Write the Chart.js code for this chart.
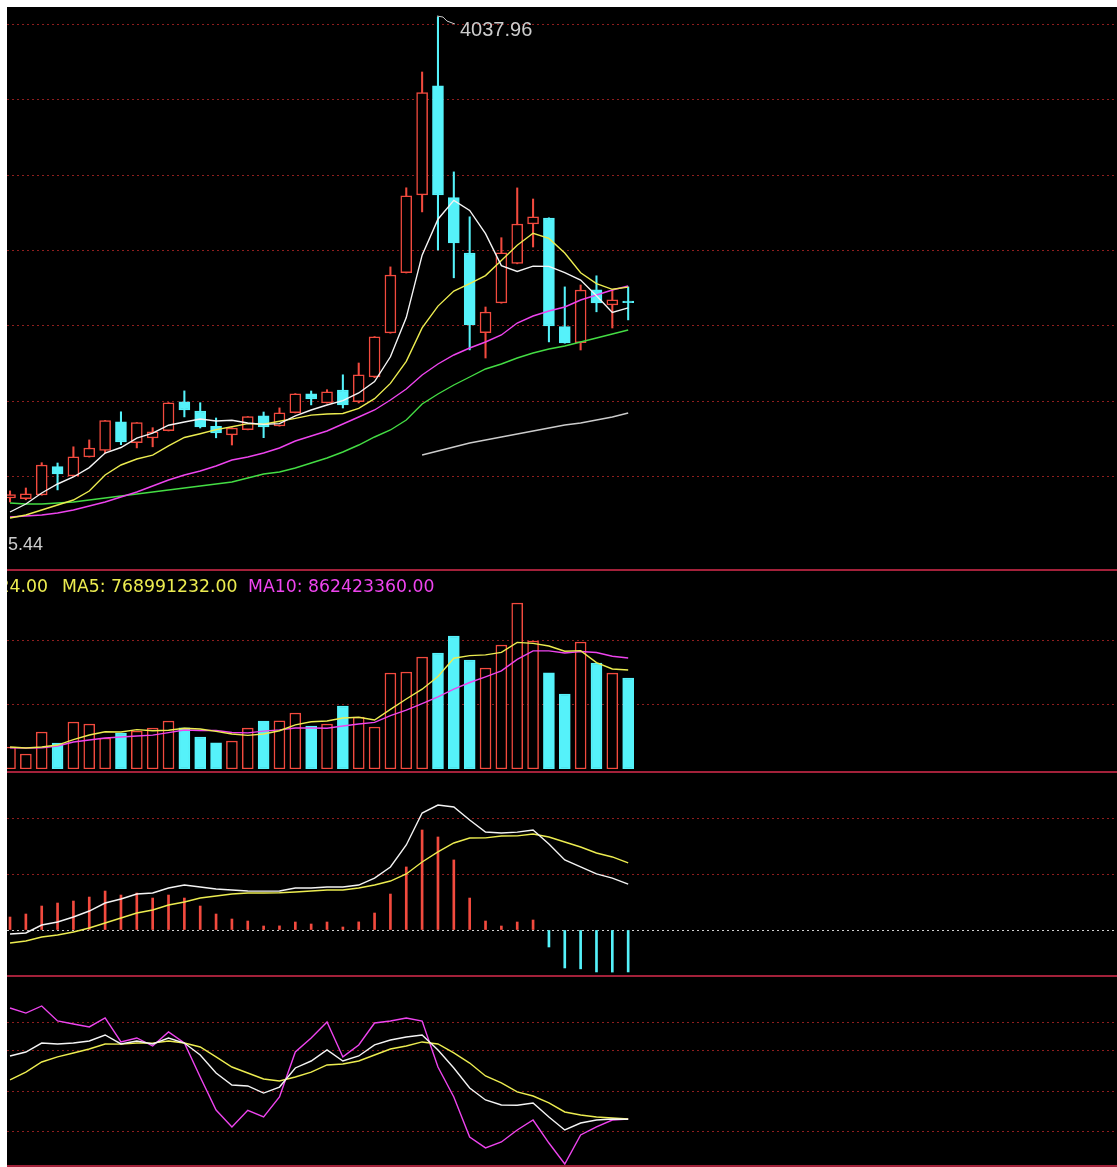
<!DOCTYPE html>
<html>
<head>
<meta charset="utf-8">
<title>K-line</title>
<script src="https://cdn.jsdelivr.net/npm/chart.js@4.4.1/dist/chart.umd.min.js"></script>
<style>
  html, body { margin: 0; padding: 0; background: #fff; }
  #board { position: absolute; left: 7px; top: 7px; width: 1110px; height: 1160px; background: #000; overflow: hidden; }
  #board canvas { position: absolute; left: 0; }
  .sep { position: absolute; left: 0; width: 1110px; height: 2px; background: #a3213a; }
</style>
</head>
<body>
<div id="board">
  <canvas id="price" width="1110" height="562" style="top:0px"></canvas>
  <canvas id="volume" width="1110" height="197" style="top:565px"></canvas>
  <canvas id="macd" width="1110" height="201" style="top:767px"></canvas>
  <canvas id="kdj" width="1110" height="188" style="top:970px"></canvas>
  <div class="sep" style="top:562px"></div>
  <div class="sep" style="top:764px"></div>
  <div class="sep" style="top:968px"></div>
  <div class="sep" style="top:1158px"></div>
</div>
<script>
//--- Data (one entry per trading day, oldest first)
var openP  = [3557.2, 3556.4, 3560.1, 3588.3, 3579.0, 3598.2, 3604.5, 3633.1, 3612.4, 3617.0,
              3624.3, 3653.2, 3644.0, 3628.6, 3620.1, 3625.4, 3639.2, 3629.0, 3642.3, 3661.1,
              3652.2, 3665.0, 3653.4, 3678.2, 3722.1, 3782.3, 3860.2, 3969.1, 3857.4, 3802.0,
              3722.3, 3752.1, 3791.5, 3831.2, 3837.0, 3728.3, 3712.4, 3765.1, 3750.2, 3754.0];
var highP  = [3564.1, 3567.0, 3592.3, 3592.0, 3608.2, 3615.1, 3634.6, 3643.2, 3632.5, 3627.3,
              3652.4, 3664.1, 3652.3, 3637.0, 3627.2, 3638.5, 3643.0, 3647.1, 3661.4, 3664.0,
              3665.3, 3680.2, 3692.0, 3718.4, 3788.1, 3867.2, 3983.0, 4037.96, 3883.1, 3838.2,
              3748.0, 3817.3, 3867.1, 3856.0, 3837.2, 3768.1, 3770.0, 3779.2, 3765.3, 3768.1];
var lowP   = [3553.0, 3555.2, 3559.8, 3565.1, 3578.7, 3597.9, 3602.0, 3610.3, 3607.1, 3608.2,
              3624.0, 3638.1, 3627.0, 3617.2, 3610.0, 3625.1, 3617.3, 3628.8, 3642.0, 3650.1,
              3651.9, 3647.0, 3652.1, 3677.3, 3721.8, 3782.0, 3843.1, 3805.0, 3777.2, 3705.1,
              3697.0, 3751.8, 3791.2, 3808.0, 3713.1, 3711.8, 3705.0, 3743.2, 3727.0, 3735.1];
var closeP = [3560.3, 3561.1, 3590.0, 3581.2, 3598.1, 3607.0, 3634.4, 3613.0, 3632.3, 3623.1,
              3652.2, 3645.0, 3628.1, 3622.0, 3627.0, 3638.3, 3628.0, 3642.2, 3661.2, 3656.0,
              3663.1, 3650.2, 3680.1, 3718.2, 3780.0, 3859.1, 3962.3, 3860.0, 3812.2, 3730.1,
              3743.0, 3802.2, 3831.0, 3838.1, 3729.0, 3712.1, 3765.0, 3752.2, 3755.1, 3752.3];

var ma5  = [3543.0, 3551.0, 3562.0, 3571.0, 3578.0, 3587.4, 3602.0, 3607.5, 3616.8, 3621.8,
            3629.8, 3633.0, 3636.0, 3634.0, 3634.8, 3632.0, 3630.6, 3631.4, 3639.2, 3645.0,
            3650.0, 3654.4, 3662.0, 3673.4, 3698.2, 3737.4, 3799.8, 3835.8, 3854.6, 3844.6,
            3821.4, 3789.4, 3783.6, 3788.8, 3788.6, 3782.4, 3775.0, 3759.2, 3742.6, 3747.2];
var ma10 = [3537.0, 3540.0, 3545.0, 3550.0, 3555.0, 3564.0, 3580.0, 3590.0, 3596.0, 3599.9,
            3609.1, 3617.5, 3621.3, 3625.4, 3628.3, 3631.4, 3630.8, 3633.7, 3636.6, 3639.9,
            3641.0, 3641.5, 3646.7, 3656.3, 3671.6, 3693.7, 3727.1, 3748.9, 3764.0, 3771.4,
            3779.4, 3794.6, 3809.7, 3821.7, 3816.6, 3801.9, 3782.2, 3771.4, 3765.7, 3767.9];
var ma20 = [3538.0, 3539.0, 3540.0, 3542.0, 3545.0, 3549.0, 3553.0, 3558.0, 3563.0, 3569.0,
            3575.0, 3580.0, 3584.0, 3589.0, 3595.0, 3598.0, 3602.0, 3607.0, 3614.0, 3619.0,
            3624.0, 3631.0, 3638.0, 3645.0, 3655.0, 3666.0, 3680.0, 3691.0, 3700.0, 3707.0,
            3713.0, 3720.0, 3732.0, 3739.0, 3744.0, 3748.0, 3755.0, 3760.0, 3765.0, 3769.0];
var ma30 = [3552.0, 3551.0, 3551.0, 3552.0, 3553.0, 3555.0, 3557.0, 3559.0, 3561.0, 3563.0,
            3565.0, 3567.0, 3569.0, 3571.0, 3573.0, 3577.0, 3581.0, 3583.0, 3587.0, 3592.0,
            3597.0, 3603.0, 3610.0, 3618.0, 3625.0, 3635.0, 3651.0, 3661.0, 3670.0, 3678.0,
            3686.0, 3691.0, 3697.0, 3702.0, 3706.0, 3709.0, 3713.0, 3717.0, 3721.0, 3725.0];
var ma60 = [null, null, null, null, null, null, null, null, null, null,
            null, null, null, null, null, null, null, null, null, null,
            null, null, null, null, null, null, 3600.0, 3604.0, 3608.0, 3612.0,
            3615.0, 3618.0, 3621.0, 3624.0, 3627.0, 3630.0, 3632.0, 3635.0, 3638.0, 3642.0];

// volume in millions
var vol    = [170.9, 116.6, 287.5, 202.0, 365.2, 349.7, 240.9, 279.7, 295.3, 318.6,
              373.0, 320.4, 248.6, 202.7, 217.6, 317.9, 372.1, 374.4, 435.1, 334.1,
              349.7, 489.5, 404.0, 326.3, 745.9, 753.7, 870.2, 901.3, 1033.4, 846.9,
              784.8, 963.5, 1289.8, 994.6, 746.5, 582.8, 986.8, 823.6, 745.3, 707.114624];
var volMa5 = [171, 163, 171, 186, 228, 264, 289, 287, 306, 297,
              301, 317, 311, 292, 272, 261, 272, 297, 343, 367,
              373, 396, 402, 381, 463, 544, 620, 719, 861, 881,
              887, 906, 984, 976, 956, 915, 920, 827, 777, 768.991232];
var volMa10 = [165, 163, 164, 179, 210, 225, 241, 249, 256, 263,
               283, 303, 299, 299, 284, 281, 294, 304, 318, 319,
               317, 334, 350, 362, 415, 458, 508, 561, 621, 672,
               716, 763, 852, 918, 918, 901, 913, 905, 876, 862.42336];

var dif = [-3.6, -2.7, 4.5, 7.2, 11.7, 17.1, 24.3, 27.9, 32.4, 33.3,
           37.8, 40.5, 38.7, 36.9, 36.0, 35.1, 35.0, 35.2, 37.8, 37.9,
           38.7, 38.8, 40.5, 46.8, 56.8, 76.6, 105.4, 112.6, 110.8, 99.1,
           88.3, 87.4, 88.2, 90.1, 77.5, 63.1, 56.8, 50.5, 46.8, 41.4];
var dea = [-11.7, -9.9, -6.3, -4.5, -1.8, 1.8, 6.3, 10.8, 15.3, 18.0,
           22.5, 25.2, 28.8, 30.6, 32.4, 33.3, 33.4, 33.5, 34.2, 35.1,
           36.0, 36.1, 37.8, 40.5, 44.1, 50.5, 61.3, 70.3, 78.4, 82.9,
           83.0, 84.7, 84.8, 86.5, 83.8, 79.3, 74.8, 69.4, 65.8, 60.4];
var macdBar = [11.7, 14.4, 21.6, 24.3, 26.1, 29.7, 35.1, 31.5, 33.3, 28.8,
               31.5, 28.8, 21.6, 14.4, 9.9, 8.1, 3.6, 3.7, 7.2, 5.4,
               7.2, 2.7, 7.3, 15.3, 32.4, 56.8, 90.1, 83.8, 63.1, 28.8,
               8.1, 3.6, 7.2, 9.0, -15.3, -34.2, -35.0, -37.8, -37.9, -37.8];

var kLine = [75.8, 78.7, 85.3, 84.6, 85.3, 86.8, 91.2, 84.6, 86.8, 84.6,
             89.0, 85.3, 76.5, 63.3, 54.5, 53.8, 48.6, 53.0, 67.0, 72.1,
             80.2, 72.1, 75.8, 83.9, 87.5, 89.7, 91.2, 80.2, 67.0, 52.3,
             43.5, 39.8, 39.6, 41.3, 31.0, 21.5, 26.6, 28.8, 29.5, 29.4];
var dLine = [58.2, 64.0, 71.4, 75.1, 78.0, 80.9, 84.6, 84.5, 85.3, 85.2,
             86.8, 85.3, 82.4, 75.1, 67.7, 63.3, 58.9, 57.4, 60.4, 64.0,
             69.2, 69.9, 72.1, 76.5, 80.9, 83.1, 86.1, 84.6, 78.0, 70.6,
             61.1, 56.0, 49.4, 46.4, 41.3, 34.7, 32.5, 31.0, 30.3, 29.5];
var jLine = [111.0, 107.3, 112.5, 101.5, 99.3, 97.1, 103.7, 86.1, 89.0, 83.1,
             93.4, 85.3, 60.4, 36.1, 23.7, 35.9, 31.0, 45.7, 78.7, 89.0,
             100.7, 75.1, 83.9, 100.0, 101.5, 103.7, 101.4, 67.7, 45.7, 16.3,
             8.3, 12.7, 21.5, 28.8, 11.9, -3.5, 17.8, 23.7, 28.8, 29.5];

// gridline values per panel
var priceGrid = [4030.5, 3955.5, 3880, 3805, 3729.5, 3654, 3578.5];
var volGrid = [500, 1000];
var macdGrid = [0, 50, 100];
var kdjGrid = [20, 50, 80, 100];

//--- Colours
var RED = '#f24a3e', CYAN = '#55f2fa', WHITE = '#f4f4f4', YELLOW = '#ecec50',
    MAGENTA = '#ee44ee', GREEN = '#44dd44', GREY = '#cccccc', GRID = '#8e1e1e', ZERO = '#d0d0d0';

// x range: whole board width, index 0 sits 3px in, 15.85px per day
var X_MIN = -0.19, X_MAX = 69.84;

var days = openP.map(function (v, i) { return i; });
var up = days.map(function (i) { return closeP[i] >= openP[i]; });

function pts(arr) {
    return arr.map(function (v, i) { return { x: i, y: v }; })
              .filter(function (p) { return p.y !== null; });
}

function lineSet(arr, color) {
    return { type: 'line', data: pts(arr), borderColor: color, borderWidth: 1.4,
             pointRadius: 0, fill: false, tension: 0, order: 0 };
}

function options(yMin, yMax, grid, gridColor) {
    return {
        responsive: false, maintainAspectRatio: false, animation: false,
        devicePixelRatio: 1, events: [],
        layout: { padding: 0 },
        plugins: { legend: { display: false }, tooltip: { enabled: false } },
        scales: {
            x: { type: 'linear', min: X_MIN, max: X_MAX, display: false, offset: false },
            y: {
                min: yMin, max: yMax,
                afterBuildTicks: function (scale) {
                    scale.ticks = grid.map(function (v) { return { value: v }; });
                },
                ticks: { display: false },
                grid: { color: gridColor || GRID, lineWidth: 1, drawTicks: false },
                border: { display: false, dash: [2, 3] }
            }
        }
    };
}

//--- Price panel
var priceLabels = {
    id: 'priceLabels',
    afterDatasetsDraw: function (chart) {
        var ctx = chart.ctx;
        var top = highP.indexOf(Math.max.apply(null, highP));
        var px = chart.scales.x.getPixelForValue(top);
        var py = chart.scales.y.getPixelForValue(highP[top]);
        ctx.save();
        ctx.strokeStyle = GREY;
        ctx.lineWidth = 1;
        ctx.beginPath();
        ctx.moveTo(px - 1, py - 1);
        ctx.lineTo(px + 5, py);
        ctx.lineTo(px + 9, py + 4);
        ctx.lineTo(px + 17, py + 7);
        ctx.stroke();
        ctx.fillStyle = GREY;
        ctx.textBaseline = 'alphabetic';
        ctx.font = '20px "Liberation Sans"';
        ctx.fillText(highP[top].toFixed(2), px + 22, py + 19);
        ctx.font = '18px "Liberation Sans"';
        ctx.fillText('5.44', 1, 543);
        ctx.restore();
    }
};

new Chart(document.getElementById('price'), {
    type: 'bar',
    data: {
        datasets: [
            lineSet(ma5, WHITE), lineSet(ma10, YELLOW), lineSet(ma20, MAGENTA),
            lineSet(ma30, GREEN), lineSet(ma60, GREY),
            {
                type: 'bar',
                data: days.map(function (i) { return { x: i, y: [openP[i], closeP[i]] }; }),
                backgroundColor: up.map(function (u) { return u ? '#000000' : CYAN; }),
                borderColor: up.map(function (u) { return u ? RED : CYAN; }),
                borderWidth: 1.5, borderSkipped: false, barThickness: 11, minBarLength: 1,
                grouped: false, order: 5
            },
            {
                type: 'bar',
                data: days.map(function (i) { return { x: i, y: [lowP[i], highP[i]] }; }),
                backgroundColor: up.map(function (u) { return u ? RED : CYAN; }),
                borderWidth: 0, barThickness: 1.4, grouped: false, order: 10
            }
        ]
    },
    options: options(3486, 4048, priceGrid),
    plugins: [priceLabels]
});

//--- Volume panel
function money(v) { return Math.round(v * 1e6).toFixed(2); }

var volLabels = {
    id: 'volLabels',
    afterDatasetsDraw: function (chart) {
        var ctx = chart.ctx;
        var n = vol.length - 1;
        ctx.save();
        ctx.font = '17.3px "DejaVu Sans"';
        ctx.textBaseline = 'alphabetic';
        ctx.fillStyle = YELLOW;
        ctx.textAlign = 'right';
        ctx.fillText(money(vol[n]), 41, 20);
        ctx.textAlign = 'left';
        ctx.fillText('MA5: ' + money(volMa5[n]), 55, 20);
        ctx.fillStyle = MAGENTA;
        ctx.fillText('MA10: ' + money(volMa10[n]), 241, 20);
        ctx.restore();
    }
};

new Chart(document.getElementById('volume'), {
    type: 'bar',
    data: {
        datasets: [
            lineSet(volMa5, YELLOW), lineSet(volMa10, MAGENTA),
            {
                type: 'bar',
                data: pts(vol),
                backgroundColor: up.map(function (u) { return u ? '#000000' : CYAN; }),
                borderColor: up.map(function (u) { return u ? RED : CYAN; }),
                borderWidth: 1.5, borderSkipped: false, barThickness: 11, order: 5
            }
        ]
    },
    options: options(0, 1530.7, volGrid),
    plugins: [volLabels]
});

//--- MACD panel
new Chart(document.getElementById('macd'), {
    type: 'bar',
    data: {
        datasets: [
            lineSet(dif, WHITE), lineSet(dea, YELLOW),
            {
                type: 'bar',
                data: pts(macdBar),
                backgroundColor: macdBar.map(function (v) { return v >= 0 ? RED : CYAN; }),
                borderWidth: 0, barThickness: 2, order: 5
            }
        ]
    },
    options: options(-40.54, 140.54, macdGrid, function (c) {
        return c.tick && c.tick.value === 0 ? ZERO : GRID;
    })
});

//--- KDJ panel
new Chart(document.getElementById('kdj'), {
    type: 'line',
    data: {
        datasets: [lineSet(kLine, WHITE), lineSet(dLine, YELLOW), lineSet(jLine, MAGENTA)]
    },
    options: options(-4.22, 133.76, kdjGrid)
});
</script>
</body>
</html>
